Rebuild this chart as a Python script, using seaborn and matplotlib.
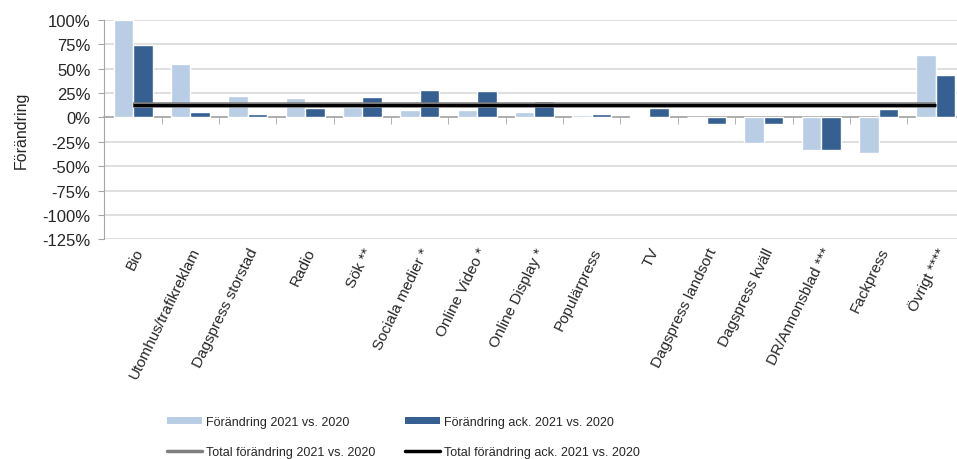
import numpy as np
import pandas as pd
import matplotlib
matplotlib.use("Agg")
import matplotlib.pyplot as plt
import seaborn as sns
from matplotlib.patches import Patch
from matplotlib.lines import Line2D
from matplotlib.ticker import FuncFormatter, FixedLocator

categories = ["Bio", "Utomhus/trafikreklam", "Dagspress storstad", "Radio", "Sök **",
              "Sociala medier *", "Online Video *", "Online Display *", "Populärpress", "TV",
              "Dagspress landsort", "Dagspress kväll", "DR/Annonsblad ***", "Fackpress", "Övrigt ****"]
change_2021 = [100, 55, 22, 20, 11, 7.5, 7.5, 5, 2, 1, 0.5, -26, -34, -37, 64]
change_ack_2021 = [74, 5, 3.5, 10, 20.5, 28, 27, 16.5, 3, 10, -6.5, -6.5, -34, 8.5, 43]
total_2021 = 12.5
total_ack_2021 = 13
series_names = ["Förändring 2021 vs. 2020", "Förändring ack. 2021 vs. 2020"]
line_names = ["Total förändring 2021 vs. 2020", "Total förändring ack. 2021 vs. 2020"]
yticks = [100, 75, 50, 25, 0, -25, -50, -75, -100, -125]

light = "#B9CDE5"
dark = "#366092"
axis_gray = "#A6A6A6"

sns.set_style("white")
plt.rcParams['font.family'] = ['Liberation Sans', 'DejaVu Sans']

df = pd.DataFrame({
    "cat": categories * 2,
    "val": change_2021 + change_ack_2021,
    "series": [series_names[0]] * len(categories) + [series_names[1]] * len(categories),
})

fig = plt.figure(figsize=(9.57, 4.6), dpi=100)
ax = fig.add_axes([0.1091, 0.4776, 0.8988, 0.4774])

sns.barplot(data=df, x="cat", y="val", hue="series", palette=[light, dark],
            width=0.68, gap=0, ax=ax, legend=False, saturation=1, zorder=2)

n = len(categories)
xs = np.arange(n)
ax.plot(xs, np.full(n, total_2021), color="#7F7F7F", lw=4.0, zorder=3, solid_capstyle="butt")
ax.plot(xs, np.full(n, total_ack_2021), color="black", lw=2.2, zorder=4, solid_capstyle="butt")

ax.set_xlim(-0.5, n - 0.5)
ax.set_ylim(-125, 100)
ax.set_yticks(yticks)
ax.yaxis.set_major_formatter(FuncFormatter(lambda v, p: f"{int(v)}%"))
ax.grid(axis="y", color="#D9D9D9", lw=1.2, zorder=0)
ax.set_axisbelow(True)
ax.tick_params(axis="y", labelsize=12, length=4, color=axis_gray, left=True, pad=6)
ax.set_ylabel("Förändring", fontsize=11.5, labelpad=10)
ax.set_xlabel("")

for s in ["top", "right"]:
    ax.spines[s].set_visible(False)
ax.spines["left"].set_color(axis_gray)
ax.spines["bottom"].set_position(("data", 0))
ax.spines["bottom"].set_color(axis_gray)
ax.spines["bottom"].set_linewidth(1.2)
ax.spines["bottom"].set_zorder(1.5)

ax.set_xticks(xs)
ax.set_xticklabels(categories, rotation=64, ha="right", rotation_mode="anchor", fontsize=11)
ax.xaxis.set_minor_locator(FixedLocator(np.arange(n - 1) + 0.5))
ax.tick_params(axis="x", which="major", length=0, pad=92)
ax.tick_params(axis="x", which="minor", length=5, color=axis_gray, direction="out", bottom=True)

handles = [
    Patch(facecolor=light, edgecolor="none"),
    Line2D([], [], color="#7F7F7F", lw=2.5),
    Patch(facecolor=dark, edgecolor="none"),
    Line2D([], [], color="black", lw=2.5),
]
labels = [series_names[0], line_names[0], series_names[1], line_names[1]]
fig.legend(handles, labels, ncol=2, loc="upper left", bbox_to_anchor=(0.163, 0.1185),
           frameon=False, fontsize=9, handlelength=2.8, handleheight=0.55,
           handletextpad=0.3, columnspacing=2.4, labelspacing=1.45)

fig.savefig("out.png", dpi=100)
